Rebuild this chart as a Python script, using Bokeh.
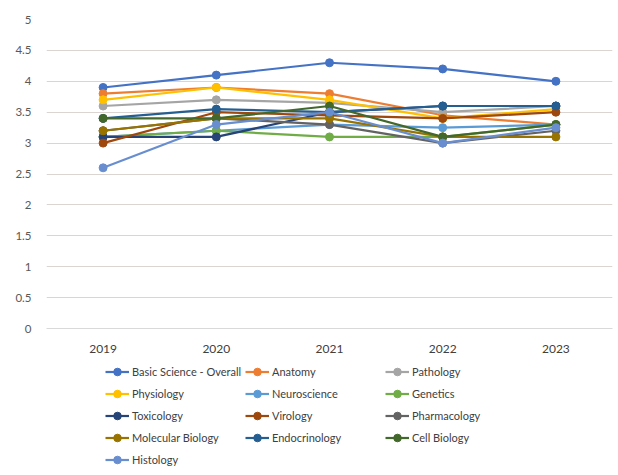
from bokeh.plotting import figure
from bokeh.layouts import column
from bokeh.models import Legend, LegendItem, FixedTicker, ColumnDataSource, Range1d
from bokeh.embed import file_html
from bokeh.resources import INLINE

years = ["2019", "2020", "2021", "2022", "2023"]

basic_science = [3.9, 4.1, 4.3, 4.2, 4.0]
anatomy = [3.8, 3.9, 3.8, 3.45, 3.3]
pathology = [3.6, 3.7, 3.65, 3.5, 3.6]
physiology = [3.7, 3.9, 3.7, 3.4, 3.55]
neuroscience = [3.1, 3.2, 3.3, 3.25, 3.3]
genetics = [3.1, 3.2, 3.1, 3.1, 3.3]
toxicology = [3.1, 3.1, 3.5, 3.6, 3.6]
virology = [3.0, 3.5, 3.45, 3.4, 3.5]
pharmacology = [3.2, 3.4, 3.3, 3.0, 3.2]
molecular_biology = [3.2, 3.4, 3.4, 3.1, 3.1]
endocrinology = [3.4, 3.55, 3.5, 3.6, 3.6]
cell_biology = [3.4, 3.4, 3.6, 3.1, 3.3]
histology = [2.6, 3.3, 3.5, 3.0, 3.25]

series_names = ["Basic Science - Overall", "Anatomy", "Pathology", "Physiology",
                "Neuroscience", "Genetics", "Toxicology", "Virology", "Pharmacology",
                "Molecular Biology", "Endocrinology", "Cell Biology", "Histology"]
series_values = [basic_science, anatomy, pathology, physiology, neuroscience, genetics,
                 toxicology, virology, pharmacology, molecular_biology, endocrinology,
                 cell_biology, histology]
colors = ["#4472C4", "#ED7D31", "#A5A5A5", "#FFC000", "#5B9BD5", "#70AD47",
          "#264478", "#9E480E", "#636363", "#997300", "#255E91", "#43682B", "#698ED0"]

y_ticks = [0, 0.5, 1, 1.5, 2, 2.5, 3, 3.5, 4, 4.5, 5]

FONT = "Lato"

p = figure(width=618, height=360, x_range=years, y_range=(0, 5),
           output_backend="svg", toolbar_location=None)
p.min_border_left = 46
p.min_border_right = 6
p.min_border_top = 19
p.min_border_bottom = 32
p.outline_line_color = None
p.background_fill_color = "white"

p.yaxis.ticker = FixedTicker(ticks=y_ticks)
p.yaxis.axis_line_color = None
p.yaxis.major_tick_line_color = None
p.yaxis.minor_tick_line_color = None
p.yaxis.major_label_text_font = FONT
p.yaxis.major_label_text_font_size = "11.5px"
p.yaxis.major_label_text_color = "#595959"
p.yaxis.major_label_standoff = 9

p.xaxis.axis_line_color = "#d9d9d9"
p.xaxis.major_tick_line_color = None
p.xaxis.minor_tick_line_color = None
p.xaxis.major_label_text_font = FONT
p.xaxis.major_label_text_font_size = "12px"
p.xaxis.major_label_text_color = "#404040"
p.xaxis.major_label_standoff = 10

p.xgrid.grid_line_color = None
p.ygrid.grid_line_color = "#dcd4d0"
p.ygrid.grid_line_width = 1

for name, vals, c in zip(series_names, series_values, colors):
    src = ColumnDataSource(dict(x=years, y=vals))
    p.line("x", "y", source=src, line_color=c, line_width=2.2)
    p.scatter("x", "y", source=src, marker="circle", size=8,
              fill_color=c, line_color=c)

# Legend panel (separate figure so the legend is not clipped);
# its proxy renderers hold the series but lie outside its visible range.
lg = figure(width=618, height=115, x_range=Range1d(0, 1), y_range=Range1d(10, 11),
            x_axis_location=None, y_axis_location=None,
            output_backend="svg", toolbar_location=None)
lg.min_border_left = 0
lg.min_border_right = 0
lg.min_border_top = 0
lg.min_border_bottom = 0
lg.grid.visible = False
lg.outline_line_color = None

items = []
for name, vals, c in zip(series_names, series_values, colors):
    proxy = ColumnDataSource(dict(x=list(range(len(years))), y=vals))
    r1 = lg.line("x", "y", source=proxy, line_color=c, line_width=2.2)
    r2 = lg.scatter("x", "y", source=proxy, marker="circle", size=7,
                    fill_color=c, line_color=c)
    items.append(LegendItem(label=name, renderers=[r1, r2]))

legend = Legend(items=items, ncols=3, orientation="horizontal", location=(59, 6))
legend.label_text_font = FONT
legend.label_text_font_size = "11px"
legend.label_text_color = "#404040"
legend.glyph_width = 24
legend.glyph_height = 19
legend.label_height = 19
legend.label_width = 110
legend.spacing = 3
legend.label_standoff = 3
legend.padding = 2
legend.margin = 0
legend.border_line_color = None
legend.background_fill_alpha = 0
lg.add_layout(legend, "center")

layout = column(p, lg, spacing=0)
open("out.html", "w").write(file_html(layout, INLINE))
